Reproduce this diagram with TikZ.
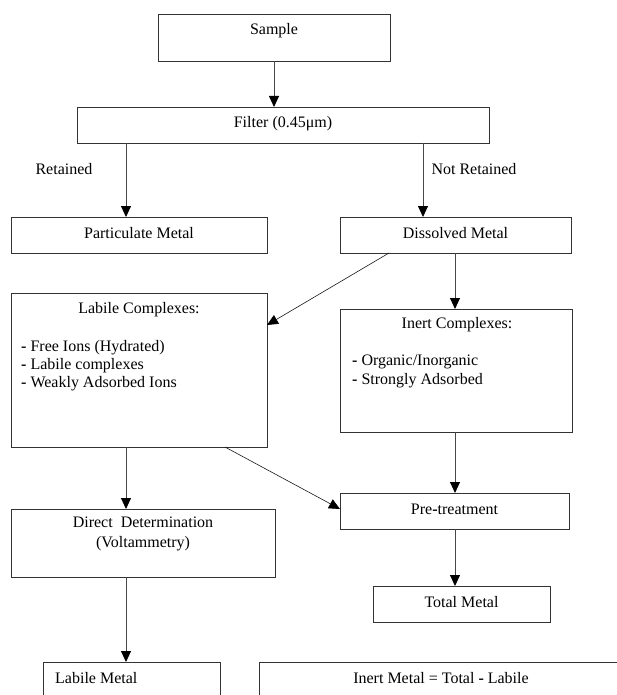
\documentclass[tikz,border=0pt]{standalone}
\usepackage{fontspec}
\setmainfont{Liberation Serif}
\usetikzlibrary{arrows.meta}
\begin{document}
\begin{tikzpicture}[x=1pt,y=-1pt,
  box/.style={draw=black!80, line width=0.9pt, inner sep=0pt, outer sep=0pt},
  lbl/.style={inner sep=0pt, font=\fontsize{16}{20}\selectfont, text=black},
  arr/.style={draw=black!72, line width=0.9pt, -{Triangle[length=11pt,width=10pt,color=black]}},
  diag/.style={draw=black!90, line width=0.6pt, -{Triangle[length=11pt,width=10pt,color=black]}}
  ]
\useasboundingbox (0,0) rectangle (617,695);
\clip (0,0) rectangle (617,695);

% boxes
\node[box, minimum width=232pt, minimum height=47pt] (sample) at (274,37.5) {};
\node[box, minimum width=412pt, minimum height=36pt] (filter) at (283,125) {};
\node[box, minimum width=256pt, minimum height=36pt] (pm) at (139,235) {};
\node[box, minimum width=231pt, minimum height=36pt] (dm) at (455.5,235) {};
\node[box, minimum width=256pt, minimum height=154pt] (lc) at (139,370) {};
\node[box, minimum width=232pt, minimum height=123pt] (ic) at (456,370.5) {};
\node[box, minimum width=264pt, minimum height=68pt] (dd) at (143,543) {};
\node[box, minimum width=229pt, minimum height=36pt] (pre) at (454.5,511) {};
\node[box, minimum width=177pt, minimum height=36pt] (tm) at (461.5,604) {};
\node[box, minimum width=177pt, minimum height=43pt] (lm) at (131.5,683.5) {};
\node[box, minimum width=366pt, minimum height=43pt] (im) at (442,683.5) {};

% texts
\node[lbl] (tsample) at (274,31) {Sample};
\node[lbl] (tfilter) at (283,124) {Filter (0.45μm)};
\node[lbl] (tret) at (64,169) {Retained};
\node[lbl] (tnret) at (474,169) {Not Retained};
\node[lbl] (tpm) at (139,233) {Particulate Metal};
\node[lbl] (tdm) at (455.5,233) {Dissolved Metal};
\node[lbl] (tlc) at (139,310) {Labile Complexes:};
\node[lbl, anchor=west] (tlc1) at (21,348) {{\bfseries -} Free Ions (Hydrated)};
\node[lbl, anchor=west] (tlc2) at (21,366) {{\bfseries -} Labile complexes};
\node[lbl, anchor=west] (tlc3) at (21,384) {{\bfseries -} Weakly Adsorbed Ions};
\node[lbl] (tic) at (457,325) {Inert Complexes:};
\node[lbl, anchor=west] (tic1) at (352,362) {{\bfseries -} Organic/Inorganic};
\node[lbl, anchor=west] (tic2) at (352,381) {{\bfseries -} Strongly Adsorbed};
\node[lbl, align=center] (tdd) at (143,534) {Direct\ \ Determination\\(Voltammetry)};
\node[lbl] (tpre) at (454.5,509) {Pre{\bfseries -}treatment};
\node[lbl] (ttm) at (461.5,602) {Total Metal};
\node[lbl, anchor=west] (tlm) at (55,678) {Labile Metal};
\node[lbl] (tim) at (441,678) {Inert Metal = Total {\bfseries -} Labile};

% connectors
\coordinate (xl) at (126,0);
\coordinate (xr) at (423,0);
\coordinate (xm) at (455,0);
\draw[arr] (sample.south) -- (sample.south |- filter.north);
\draw[arr] (filter.south -| xl) -- (pm.north -| xl);
\draw[arr] (filter.south -| xr) -- (dm.north -| xr);
\draw[arr] (dm.south -| xm) -- (ic.north -| xm);
\draw[arr] (ic.south -| xm) -- (pre.north -| xm);
\draw[arr] (pre.south -| xm) -- (tm.north -| xm);
\draw[arr] (lc.south -| xl) -- (dd.north -| xl);
\draw[arr] (dd.south -| xl) -- (lm.north -| xl);
\draw[diag] ([xshift=49pt]dm.south west) -- ([yshift=-32pt]lc.north east);
\draw[diag] ([xshift=-42pt]lc.south east) -- ([yshift=2pt]pre.west);
\end{tikzpicture}
\end{document}
